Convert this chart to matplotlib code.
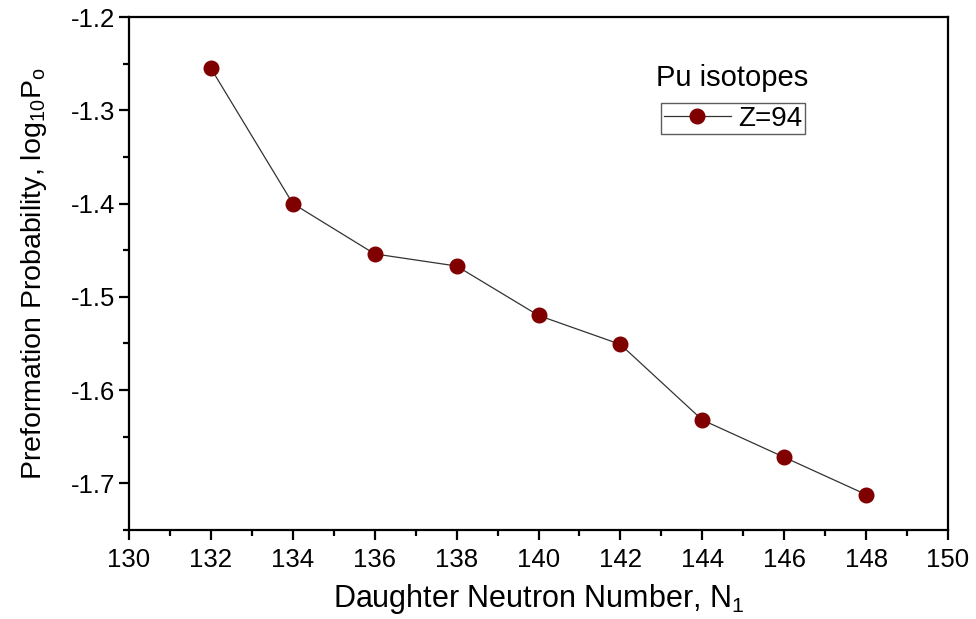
import matplotlib
matplotlib.use("Agg")
import matplotlib.pyplot as plt
from matplotlib.ticker import MultipleLocator, FormatStrFormatter

plt.rcParams['font.family'] = ['Liberation Sans', 'DejaVu Sans']
plt.rcParams['mathtext.fontset'] = 'custom'
plt.rcParams['mathtext.rm'] = 'Liberation Sans'
plt.rcParams['mathtext.it'] = 'Liberation Sans'

# Daughter neutron number and preformation probability for Pu (Z=94)
neutron_number = [132, 134, 136, 138, 140, 142, 144, 146, 148]
log_p0 = [-1.255, -1.400, -1.454, -1.467, -1.520, -1.551, -1.632, -1.672, -1.712]

fig = plt.figure(figsize=(9.76, 6.19), dpi=100)
ax = fig.add_axes([129 / 976, 1 - 530 / 619, (948 - 129) / 976, (530 - 17) / 619])

ax.plot(neutron_number, log_p0, color='#333333', linewidth=0.9,
        marker='o', markersize=10.5, markerfacecolor='#800000',
        markeredgecolor='#800000', label='Z=94')

ax.set_xlim(130, 150)
ax.set_ylim(-1.75, -1.2)
ax.xaxis.set_major_locator(MultipleLocator(2))
ax.xaxis.set_minor_locator(MultipleLocator(1))
ax.yaxis.set_major_locator(MultipleLocator(0.1))
ax.yaxis.set_minor_locator(MultipleLocator(0.05))
ax.yaxis.set_major_formatter(FormatStrFormatter('%.1f'))

ax.tick_params(which='both', direction='out', top=False, right=False,
               labelsize=18.5, width=1.6)
ax.tick_params(axis='x', pad=6)
ax.tick_params(axis='y', pad=3)
ax.tick_params(which='major', length=7)
ax.tick_params(which='minor', length=4)
for s in ax.spines.values():
    s.set_linewidth(1.6)

ax.set_xlabel('Daughter Neutron Number, N$_1$', fontsize=22, labelpad=7)
ax.set_ylabel('Preformation Probability, log$_{10}$P$_{\\rm o}$', fontsize=20.5,
              labelpad=16)

ax.text(0.737, 0.881, 'Pu isotopes', transform=ax.transAxes, fontsize=21,
        ha='center', va='center')
leg = ax.legend(loc='center', bbox_to_anchor=(0.7375, 0.802), fontsize=20,
                frameon=True, fancybox=False, edgecolor='#333333',
                handlelength=2.4, borderpad=0.1, handletextpad=0.25,
                borderaxespad=0)
leg.get_frame().set_linewidth(1.0)

fig.savefig('out.png', dpi=100)
